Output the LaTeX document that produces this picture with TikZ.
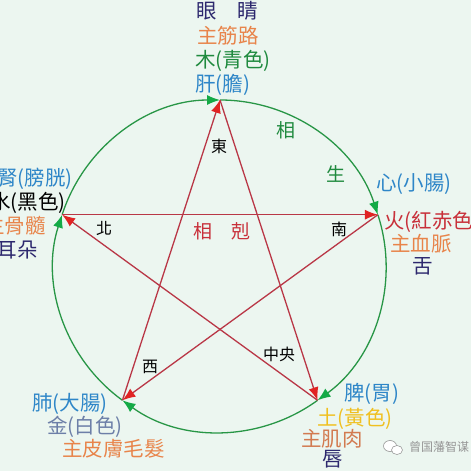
\documentclass[tikz,border=0pt]{standalone}
\usepackage{fontspec}
\newfontfamily\cjk{Noto Sans CJK TC}
\usetikzlibrary{arrows.meta}
\definecolor{bg}{RGB}{236,246,240}
\definecolor{gcol}{RGB}{40,150,70}
\definecolor{gtip}{RGB}{20,170,70}
\definecolor{rcol}{RGB}{185,55,70}
\definecolor{rtip}{RGB}{225,35,35}
\definecolor{indigo}{RGB}{45,40,110}
\definecolor{orng}{RGB}{232,132,74}
\definecolor{brorng}{RGB}{210,122,80}
\definecolor{gtext}{RGB}{31,138,62}
\definecolor{btext}{RGB}{46,134,200}
\definecolor{rtext}{RGB}{200,48,58}
\definecolor{gblue}{RGB}{109,127,168}
\definecolor{ytext}{RGB}{240,192,32}
\definecolor{wm}{RGB}{150,150,150}
\begin{document}
\begin{tikzpicture}[x=1pt,y=-1pt,
  lbl/.style={inner sep=0pt, font={\cjk\fontsize{20.5}{20.5}\selectfont}},
  dir/.style={inner sep=0pt, font={\cjk\fontsize{16}{16}\selectfont}, text=black},
  big/.style={inner sep=0pt, font={\cjk\fontsize{19}{19}\selectfont}},
  garc/.style={draw=gcol, line width=1.3pt, -{Latex[length=13pt,width=10pt,color=gtip]}},
  redge/.style={draw=rcol, line width=1.3pt, -{Latex[length=13pt,width=10pt,color=rtip]}}]
\useasboundingbox (0,0) rectangle (471,471);
\fill[bg] (0,0) rectangle (471,471);

\coordinate (C) at (220,266);
\path (C) ++(-90:166) coordinate (T);
\path (C) ++(-18:166) coordinate (R);
\path (C) ++(54:166) coordinate (BR);
\path (C) ++(126:166) coordinate (BL);
\path (C) ++(198:166) coordinate (L);

% generating cycle (green circle)
\draw[garc] (T) arc[start angle=-90, end angle=-18, radius=166];
\draw[garc] (R) arc[start angle=-18, end angle=54, radius=166];
\draw[garc] (BR) arc[start angle=54, end angle=126, radius=166];
\draw[garc] (BL) arc[start angle=126, end angle=198, radius=166];
\draw[garc] (L) arc[start angle=198, end angle=270, radius=166];

% controlling cycle (red star)
\draw[redge] (T) -- (BR);
\draw[redge] (BR) -- (L);
\draw[redge] (L) -- (R);
\draw[redge] (R) -- (BL);
\draw[redge] (BL) -- (T);

% inner labels
\node[dir] (east) at (219,146) {東};
\node[dir] (north) at (104,228) {北};
\node[dir] (south) at (339,229) {南};
\node[dir] (west) at (150,367) {西};
\node[dir] (centre) at (279,354) {中央};
\node[big, text=rtext] (xiang1) at (203,231) {相};
\node[big, text=rtext] (ke) at (241,231) {剋};
\node[big, text=gtext] (xiang2) at (286,130) {相};
\node[big, text=gtext] (sheng) at (336,174) {生};

% top (wood)
\node[lbl, anchor=base west, text=indigo] (t1) at (196,19) {眼　睛};
\node[lbl, anchor=base west, text=orng] (t2) at (197,43) {主筋路};
\node[lbl, anchor=base west, text=gtext] (t3) at (195,67) {木(青色)};
\node[lbl, anchor=base west, text=btext] (t4) at (195,91) {肝(膽)};

% left (water)
\node[lbl, anchor=base east, text=btext] (l1) at (73,185) {腎(膀胱)};
\node[lbl, anchor=base east, text=black] (l2) at (66,209) {水(黑色)};
\node[lbl, anchor=base east, text=orng] (l3) at (46,233) {主骨髓};
\node[lbl, anchor=base east, text=indigo] (l4) at (38,257) {耳朵};

% right (fire)
\node[lbl, anchor=base west, text=btext] (r1) at (376,190) {心(小腸)};
\node[lbl, anchor=base west, text=rtext] (r2) at (384,228) {火(紅赤色)};
\node[lbl, anchor=base west, text=orng] (r3) at (390,251) {主血脈};
\node[lbl, anchor=base west, text=indigo] (r4) at (412,273) {舌};

% bottom left (metal)
\node[lbl, anchor=base west, text=btext] (bl1) at (32,410) {肺(大腸)};
\node[lbl, anchor=base west, text=gblue] (bl2) at (47,433) {金(白色)};
\node[lbl, anchor=base west, text=orng] (bl3) at (62,456) {主皮膚毛髮};

% bottom right (earth)
\node[lbl, anchor=base west, text=btext] (br1) at (344,400) {脾(胃)};
\node[lbl, anchor=base west, text=ytext] (br2) at (317,425) {土(黃色)};
\node[lbl, anchor=base west, text=brorng] (br3) at (301,446) {主肌肉};
\node[lbl, anchor=base west, text=indigo] (br4) at (322,466) {唇};

% watermark
\draw[wm, fill=white, line width=0.6pt] (390,446) ellipse [x radius=6.5, y radius=5.5];
\draw[wm, fill=white, line width=0.6pt] (397,450) ellipse [x radius=5.5, y radius=4.5];
\node[inner sep=0pt, anchor=west, text=wm, font={\cjk\fontsize{12}{12}\selectfont}] (wmtext) at (409,447) {曾国藩智谋};
\end{tikzpicture}
\end{document}
